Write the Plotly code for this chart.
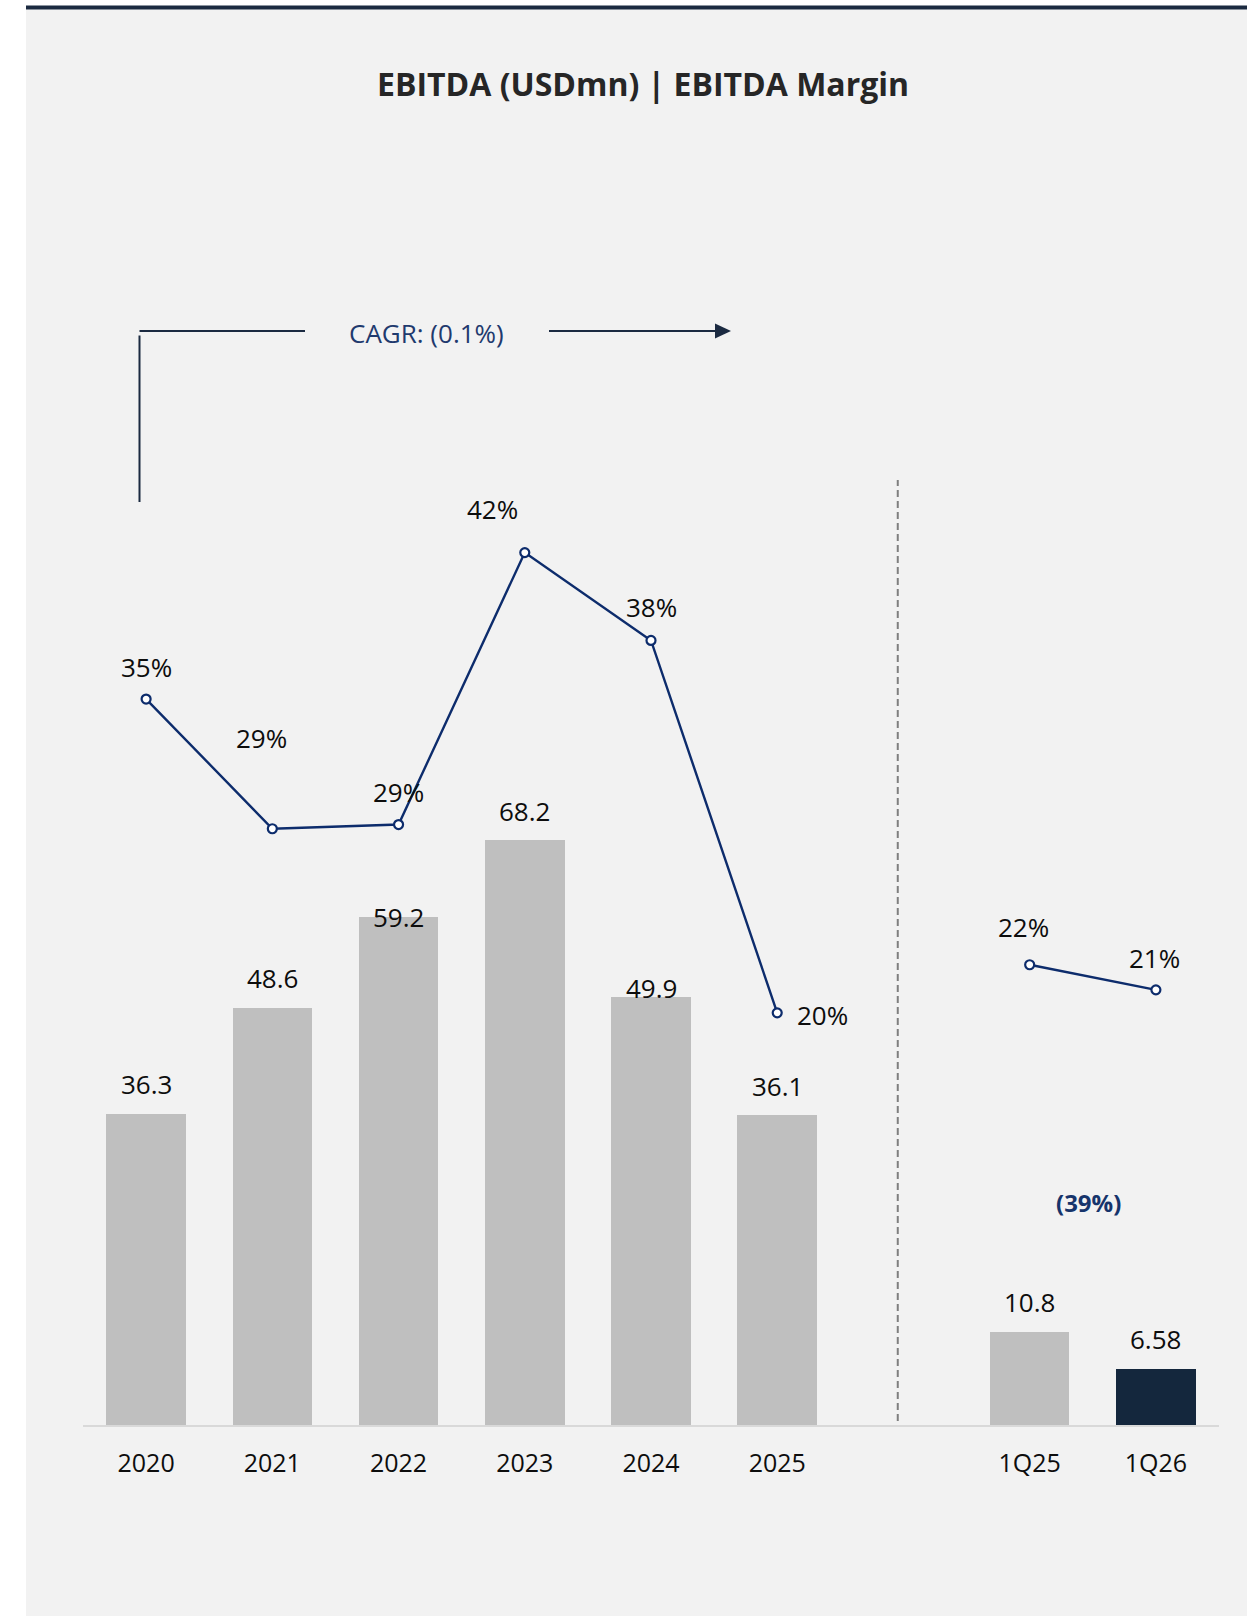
import plotly.graph_objects as go

# ---------------- data ----------------
categories = ["2020", "2021", "2022", "2023", "2024", "2025", "1Q25", "1Q26"]
periods = ["annual", "annual", "annual", "annual", "annual", "annual", "quarter", "quarter"]
ebitda = [36.3, 48.6, 59.2, 68.2, 49.9, 36.1, 10.8, 6.58]
ebitda_labels = ["36.3", "48.6", "59.2", "68.2", "49.9", "36.1", "10.8", "6.58"]
margin = [35.0, 28.8, 29.0, 42.0, 37.8, 20.0, 22.3, 21.1]
margin_labels = ["35%", "29%", "29%", "42%", "38%", "20%", "22%", "21%"]
title_text = "EBITDA (USDmn) | EBITDA Margin"
cagr_text = "CAGR: (0.1%)"
yoy_text = "(39%)"

# ---------------- style ----------------
FONT = "Open Sans"
BAR_GREY = "#bfbfbf"
BAR_NAVY = "#14273d"
LINE_NAVY = "#0d2c6c"
TEXT_NAVY = "#1f3a6e"
PANEL = "#f2f2f2"

W, H = 1247, 1616
L, R, T, B = 83, 28, 130, 191
PW, PH = W - L - R, H - T - B


def px(x):
    return (x - L) / PW


def py(y):
    return (H - B - y) / PH


# slot positions: a blank slot separates annual and quarterly periods
slots = [i + (1 if p == "quarter" else 0) for i, p in enumerate(periods)]
bar_colors = [BAR_NAVY if c == "1Q26" else BAR_GREY for c in categories]

fig = go.Figure()
fig.add_trace(go.Bar(x=slots, y=ebitda, width=0.63, marker=dict(color=bar_colors, line=dict(width=0)),
                     hoverinfo="skip", showlegend=False))

for grp in ["annual", "quarter"]:
    xs = [s for s, p in zip(slots, periods) if p == grp]
    ys = [m for m, p in zip(margin, periods) if p == grp]
    fig.add_trace(go.Scatter(x=xs, y=ys, yaxis="y2", mode="lines+markers",
                             line=dict(color=LINE_NAVY, width=2.4),
                             marker=dict(symbol="circle", size=9, color="white",
                                         line=dict(color=LINE_NAVY, width=2.2)),
                             hoverinfo="skip", showlegend=False))

annotations = []
# bar value labels
bar_shift = [30, 30, 0, 29, 9, 29, 30, 30]
for s, v, t, sh in zip(slots, ebitda, ebitda_labels, bar_shift):
    annotations.append(dict(x=s, y=v, xref="x", yref="y", text=t, showarrow=False,
                            xanchor="center", yanchor="middle", yshift=sh,
                            font=dict(family=FONT, size=26, color="#0d0d0d")))
# margin labels
m_xshift = [0, -11, 0, -32, 0, 45, -6, -1]
m_yshift = [32, 91, 33, 44, 33, -2, 38, 32]
for s, v, t, dx, dy in zip(slots, margin, margin_labels, m_xshift, m_yshift):
    annotations.append(dict(x=s, y=v, xref="x", yref="y2", text=t, showarrow=False,
                            xanchor="center", yanchor="middle", xshift=dx, yshift=dy,
                            font=dict(family=FONT, size=26, color="#0d0d0d")))
# title
annotations.append(dict(x=px(643), y=py(84), xref="paper", yref="paper", text="<b>" + title_text + "</b>",
                        showarrow=False, xanchor="center", yanchor="middle",
                        font=dict(family=FONT, size=32, color="#262626")))
# CAGR text
annotations.append(dict(x=px(426), y=py(333), xref="paper", yref="paper", text=cagr_text,
                        showarrow=False, xanchor="center", yanchor="middle",
                        font=dict(family=FONT, size=26, color=TEXT_NAVY)))
# YoY change
annotations.append(dict(x=px(1088), y=py(1202), xref="paper", yref="paper", text="<b>" + yoy_text + "</b>",
                        showarrow=False, xanchor="center", yanchor="middle",
                        font=dict(family=FONT, size=24, color="#16346b")))

shapes = [
    # background panel
    dict(type="rect", xref="paper", yref="paper", x0=px(26), x1=px(W), y0=py(H), y1=py(9),
         fillcolor=PANEL, line=dict(width=0), layer="below"),
    # top border
    dict(type="line", xref="paper", yref="paper", x0=px(26), x1=px(W), y0=py(7.5), y1=py(7.5),
         line=dict(color="#1b2a40", width=4)),
    # CAGR bracket
    dict(type="line", xref="paper", yref="paper", x0=px(139.5), x1=px(305), y0=py(331), y1=py(331),
         line=dict(color="#1b2a41", width=2)),
    dict(type="line", xref="paper", yref="paper", x0=px(549), x1=px(716), y0=py(331), y1=py(331),
         line=dict(color="#1b2a41", width=2)),
    dict(type="path", xref="paper", yref="paper",
         path=f"M {px(731)} {py(331)} L {px(715)} {py(323.5)} L {px(715)} {py(338.5)} Z",
         fillcolor="#1b2a41", line=dict(width=0)),
    dict(type="line", xref="paper", yref="paper", x0=px(139.5), x1=px(139.5), y0=py(335.5), y1=py(502),
         line=dict(color="#1b2a41", width=2)),
    # separator
    dict(type="line", xref="x", yref="paper", x0=5.955, x1=5.955, y0=py(1421), y1=py(480),
         line=dict(color="#7f7f7f", width=2, dash="7px,4px")),
]

fig.update_layout(
    width=W, height=H,
    margin=dict(l=L, r=R, t=T, b=B, pad=0),
    paper_bgcolor="white",
    plot_bgcolor="rgba(0,0,0,0)",
    bargap=0,
    xaxis=dict(range=[-0.5, 8.5], tickmode="array", tickvals=slots, ticktext=categories,
               showgrid=False, zeroline=False, showline=True, linecolor="#d9d9d9", linewidth=2,
               ticks="", ticklabelstandoff=15,
               tickfont=dict(family=FONT, size=25, color="#0d0d0d"), fixedrange=True),
    yaxis=dict(range=[0, 151], visible=False, showgrid=False, zeroline=False, fixedrange=True),
    yaxis2=dict(range=[0.3, 62.2], overlaying="y", visible=False, showgrid=False,
                zeroline=False, fixedrange=True),
    annotations=annotations,
    shapes=shapes,
    showlegend=False,
    font=dict(family=FONT),
)

fig.write_html("out.html", config={"displayModeBar": False},
               post_script="document.body.style.margin='0';document.body.style.overflow='hidden';")
